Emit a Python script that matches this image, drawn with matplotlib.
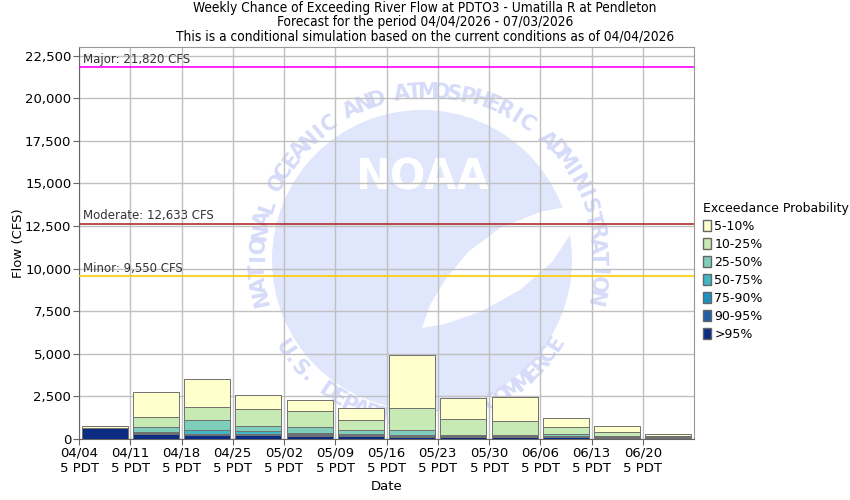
import numpy as np
import matplotlib.pyplot as plt
from matplotlib.patches import Circle, Polygon, Patch

# Week start labels
weeks = ["04/04", "04/11", "04/18", "04/25", "05/02", "05/09",
         "05/16", "05/23", "05/30", "06/06", "06/13", "06/20"]

# Flow (CFS) exceeded with the given probability, one value per week
p95 = [625, 320, 250, 216, 175, 175, 140, 130, 120, 117, 80, 40]
p90 = [632, 350, 265, 240, 230, 234, 158, 150, 140, 140, 100, 55]
p75 = [638, 365, 275, 275, 275, 275, 190, 176, 158, 160, 130, 70]
p50 = [644, 392, 520, 450, 351, 310, 216, 200, 180, 176, 150, 85]
p25 = [650, 703, 1095, 743, 721, 509, 509, 252, 216, 275, 176, 100]
p10 = [656, 1270, 1856, 1775, 1621, 1130, 1797, 1153, 1054, 685, 410, 200]
p5 = [735, 2734, 3495, 2558, 2266, 1797, 4900, 2383, 2441, 1211, 743, 275]

band_labels = [">95%", "90-95%", "75-90%", "50-75%", "25-50%", "10-25%", "5-10%"]
band_colors = ["#0c2c84", "#225ea8", "#1d91c0", "#41b6c4", "#7fcdbb", "#c7e9b4", "#ffffcc"]

# Flood thresholds
thresholds = [("Major", 21820, "#ff00ff"),
              ("Moderate", 12633, "#b03030"),
              ("Minor", 9550, "#ffcc00")]

fig = plt.figure(figsize=(8.5, 5), dpi=100)

# --- NOAA watermark, drawn in pixel coordinates behind the chart ---
wm = fig.add_axes([0, 0, 1, 1], zorder=0)
wm.set_xlim(0, 850)
wm.set_ylim(500, 0)
wm.axis("off")
lav = "#e0e6fb"
txtc = "#d5dbf8"
wm.add_patch(Circle((422, 260), 150, color=lav, lw=0))
gull = [(575, 205), (540, 212), (500, 228), (468, 252), (445, 280), (430, 305),
        (422, 328), (445, 324), (480, 312), (520, 290), (552, 262), (570, 235)]
wm.add_patch(Polygon(gull, closed=True, color="white", lw=0))
wm.text(422, 178, "NOAA", color="white", fontsize=30, fontweight="bold",
        ha="center", va="center")

top_text = "NATIONAL OCEANIC AND ATMOSPHERIC ADMINISTRATION"
angs = np.linspace(192, -12, len(top_text))
for ch, a in zip(top_text, angs):
    r = np.deg2rad(a)
    wm.text(428 + 170 * np.cos(r), 262 - 170 * np.sin(r), ch, rotation=a - 90,
            color=txtc, fontsize=15, fontweight="bold", ha="center", va="center")
bot_text = "U.S. DEPARTMENT OF COMMERCE"
angs = np.linspace(214, 328, len(bot_text))
for ch, a in zip(bot_text, angs):
    r = np.deg2rad(a)
    wm.text(418 + 162 * np.cos(r), 258 - 162 * np.sin(r), ch, rotation=a + 90,
            color=txtc, fontsize=15, fontweight="bold", ha="center", va="center")

# --- main chart ---
ax = fig.add_axes([79 / 850, 61 / 500, 615 / 850, 392 / 500], zorder=1)
ax.set_facecolor("none")

x = np.arange(len(weeks)) + 0.5
levels = [np.zeros(len(weeks)), p95, p90, p75, p50, p25, p10, p5]
for i in range(7):
    lo = np.array(levels[i])
    hi = np.array(levels[i + 1])
    ax.bar(x, hi - lo, bottom=lo, width=0.9, color=band_colors[i],
           edgecolor="#707070", linewidth=0.7, zorder=3)

for name, val, col in thresholds:
    ax.axhline(val, color=col, lw=1.2, zorder=4)
    ax.text(0.07, val + 90, f"{name}: {val:,} CFS", fontsize=8.5,
            color="#333333", va="bottom", zorder=5)

ax.set_xlim(0, len(weeks))
ax.set_ylim(0, 23000)
ax.set_xticks(np.arange(len(weeks)))
ax.set_xticklabels([w + "\n5 PDT" for w in weeks], fontsize=9.5)
yt = np.arange(0, 22501, 2500)
ax.set_yticks(yt)
ax.set_yticklabels([f"{v:,}" for v in yt], fontsize=9.5)
ax.grid(True, color="#c0c0c0", lw=1, zorder=1)
ax.tick_params(length=4, color="#666666")
ax.tick_params(axis="x", pad=1.7)
ax.tick_params(axis="y", pad=1.5)
for s in ax.spines.values():
    s.set_color("#999999")
ax.spines["left"].set_color("#666666")
ax.spines["bottom"].set_color("#666666")
ax.set_xlabel("Date", fontsize=9.5, labelpad=4)
ax.set_ylabel("Flow (CFS)", fontsize=9.5, labelpad=0)

fig.text(425 / 850, 1 - 22 / 500,
         "Weekly Chance of Exceeding River Flow at PDTO3 - Umatilla R at Pendleton\n"
         "Forecast for the period 04/04/2026 - 07/03/2026\n"
         "This is a conditional simulation based on the current conditions as of 04/04/2026",
         ha="center", va="center", fontsize=9.8, fontstretch="condensed",
         linespacing=1.04)

handles = [Patch(facecolor=band_colors[i], edgecolor="#666666", label=band_labels[i])
           for i in range(6, -1, -1)]
leg = ax.legend(handles=handles, title="Exceedance Probability", loc="upper left",
                bbox_to_anchor=(1.015, 0.605), frameon=False, fontsize=9,
                title_fontsize=9, handlelength=0.6, handleheight=1.0,
                handletextpad=0.3, labelspacing=0.4, borderaxespad=0, borderpad=0)
leg._legend_box.align = "left"

fig.savefig("out.png", dpi=100)
